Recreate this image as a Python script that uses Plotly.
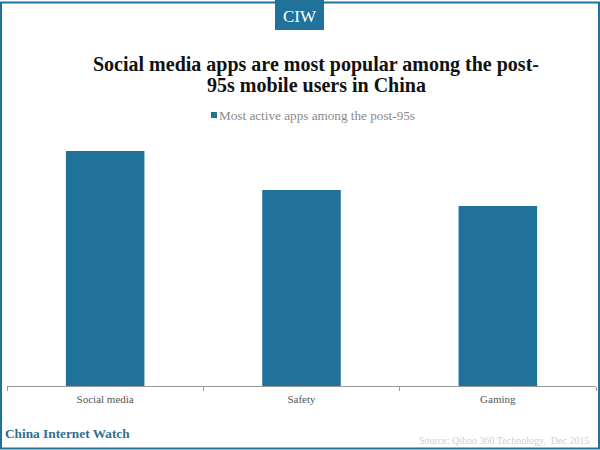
import plotly.graph_objects as go

categories = ["Social media", "Safety", "Gaming"]
values = [235, 196, 180]
series_name = "Most active apps among the post-95s"
title_lines = ["Social media apps are most popular among the post-", "95s mobile users in China"]

W, H = 600, 450
L, R, T, B = 7, 4, 130, 64
BLUE = "#21729b"
SERIF = "Liberation Serif"

def px(x):
    return (x - L) / (W - L - R)

def py(y):
    return (H - B - y) / (H - T - B)

fig = go.Figure(go.Bar(x=categories, y=values, name=series_name, marker_color=BLUE,
                       marker_line_width=0, showlegend=False))

fig.update_layout(
    width=W, height=H, autosize=False,
    margin=dict(l=L, r=R, t=T, b=B),
    paper_bgcolor="white", plot_bgcolor="white",
    bargap=0.6,
    font=dict(family=SERIF, size=11, color="#555555"),
    showlegend=False,
    xaxis=dict(showline=True, linecolor="#9a9a9a", linewidth=1, ticks="outside",
               tickson="boundaries", ticklen=4, tickcolor="#9a9a9a", showgrid=False,
               ticklabelstandoff=3, tickfont=dict(size=11, color="#555555")),
    yaxis=dict(range=[0, 256], visible=False, showgrid=False, zeroline=False),
    shapes=[
        dict(type="rect", xref="paper", yref="paper", x0=px(1), x1=px(599), y0=py(448.5), y1=py(2.5),
             line=dict(color=BLUE, width=2), fillcolor="rgba(0,0,0,0)", layer="below"),
        dict(type="rect", xref="paper", yref="paper", x0=px(275), x1=px(324), y0=py(30), y1=py(0),
             line=dict(width=0), fillcolor=BLUE, layer="below"),
        dict(type="rect", xref="paper", yref="paper", x0=px(211), x1=px(217), y0=py(118), y1=py(112),
             line=dict(width=0), fillcolor=BLUE, layer="below"),
    ],
    annotations=[
        dict(text="CIW", xref="paper", yref="paper", x=px(299.5), y=py(16), showarrow=False,
             xanchor="center", yanchor="middle", font=dict(family=SERIF, size=17, color="white")),
        dict(text="<b>" + title_lines[0] + "</b>", xref="paper", yref="paper", x=px(316), y=py(64),
             showarrow=False, xanchor="center", yanchor="middle",
             font=dict(family=SERIF, size=20, color="#111111")),
        dict(text="<b>" + title_lines[1] + "</b>", xref="paper", yref="paper", x=px(316), y=py(85),
             showarrow=False, xanchor="center", yanchor="middle",
             font=dict(family=SERIF, size=20, color="#111111")),
        dict(text=series_name, xref="paper", yref="paper", x=px(217), y=py(115),
             showarrow=False, xanchor="left", yanchor="middle",
             font=dict(family=SERIF, size=13.2, color="#8a8a8a")),
        dict(text="<b>China Internet Watch</b>", xref="paper", yref="paper", x=px(3), y=py(433),
             showarrow=False, xanchor="left", yanchor="middle",
             font=dict(family=SERIF, size=13.3, color="#2f6f8f")),
        dict(text="Source: Qihoo 360 Technology,  Dec 2015", xref="paper", yref="paper", x=px(591), y=py(440),
             showarrow=False, xanchor="right", yanchor="middle",
             font=dict(family=SERIF, size=10, color="#cfcfcf")),
    ],
)

fig.write_html("out.html", config=dict(displayModeBar=False),
               post_script="document.body.style.margin='0';document.body.style.overflow='hidden';")
